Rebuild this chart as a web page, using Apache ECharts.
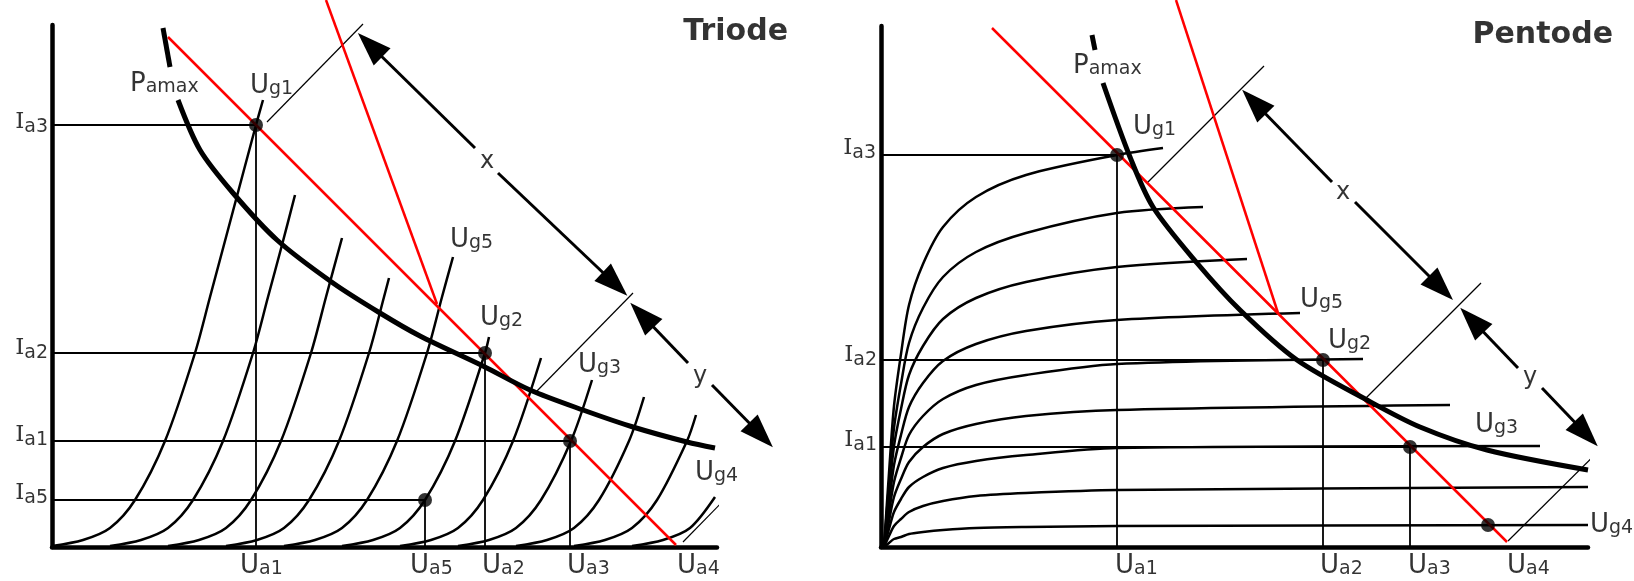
<!DOCTYPE html>
<html>
<head>
<meta charset="utf-8">
<title>Triode / Pentode</title>
<script src="https://cdn.jsdelivr.net/npm/echarts@6/dist/echarts.min.js"></script>
<style>
  html, body { margin: 0; padding: 0; background: #fff; }
  #chart { width: 1634px; height: 581px; }
</style>
</head>
<body>
<div id="chart"></div>
<script>
// x = anode voltage Ua, y = anode current Ia (arbitrary units)

/* ---------- Triode ---------- */
const triodeGridCurves = [
  [[0,1],[31,7],[58,19],[83,47],[113,106],[143,194],[158,250],[181,336],[204,422],[211,447]],
  [[58,1],[89,7],[116,19],[141,47],[171,106],[201,194],[216,250],[230,302],[243,352]],
  [[116,1],[147,7],[174,19],[199,47],[229,106],[259,194],[274,250],[290,309]],
  [[174,1],[205,7],[232,19],[257,47],[287,106],[317,194],[332,250],[337,269]],
  [[232,1],[263,7],[290,19],[315,47],[345,106],[375,194],[390,250],[401,290]],
  [[290,1],[321,7],[348,19],[373,47],[403,106],[433,194],[437,210]],
  [[348,1],[379,7],[406,19],[431,47],[461,106],[489,189]],
  [[406,1],[437,7],[464,19],[489,47],[519,106],[540,167]],
  [[464,1],[495,7],[522,19],[547,47],[577,106],[592,150]],
  [[522,1],[553,7],[580,19],[605,47],[635,106],[644,132]],
  [[580,1],[611,7],[638,19],[663,50]]
];
const triodePamaxTop = [[111,519],[118,480]];
const triodePamax = [[126,447],[148,397],[181,354],[225,307],[281,264],[328,234],[368,211],
  [431,181],[478,157],[531,137],[581,120],[635,105],[663,99]];
const triodeLoadLine = [[116,510],[624,2]];
const triodeSteepLine = [[274,547],[385,243]];
const triodeUa = [204, 433, 518, 373];   // Ua1, Ua2, Ua3, Ua5
const triodeIa = [422, 194, 106, 47];    // Ia3, Ia2, Ia1, Ia5
const triodeTicks = [[[215,425],[311,523]], [[483,154],[581,254]], [[631,5],[728,104]]];
const triodeArrowsStart = [[[318,502],[423,399]], [[590,232],[636,184]]];
const triodeArrowsEnd = [[[446,374],[563,263]], [[660,162],[709,112]]];
const triodeLabels = [
  ['P','amax',78,463,'left'], ['U','g1',198,461,'left'], ['U','g5',398,307,'left'],
  ['U','g2',428,229,'left'], ['U','g3',526,182,'left'], ['U','g4',643,74,'left'],
  ['I','a3',-4,423,'right'], ['I','a2',-4,197,'right'], ['I','a1',-4,110,'right'], ['I','a5',-4,52,'right'],
  ['U','a1',188,-19,'left'], ['U','a5',358,-19,'left'], ['U','a2',430,-19,'left'],
  ['U','a3',515,-19,'left'], ['U','a4',625,-19,'left'],
  ['x','',435,385,'center'], ['y','',648,170,'center']
];
const triodeTitle = ['Triode', 736, 515];

/* ---------- Pentode ---------- */
const pentodeGridCurves = [
  [[3,0],[8,74],[13,141],[20,193],[28,242],[42,283],[62,320],[95,350],[145,372],[236,392],[282,399]],
  [[3,0],[8,63],[13,119],[20,163],[28,204],[42,239],[62,270],[95,295],[145,314],[236,334],[322,340]],
  [[3,0],[8,53],[13,101],[20,138],[28,172],[42,201],[62,228],[95,249],[145,265],[236,280],[366,288]],
  [[3,0],[8,43],[13,82],[20,112],[28,140],[42,164],[62,186],[95,203],[145,216],[236,227],[419,234]],
  [[3,0],[8,34],[13,65],[20,89],[28,112],[42,131],[62,148],[95,162],[145,172],[236,183],[482,188]],
  [[3,0],[8,26],[13,50],[20,68],[28,85],[42,100],[62,113],[95,123],[145,131],[236,137],[569,142]],
  [[3,0],[8,18],[13,35],[20,48],[28,60],[42,70],[62,79],[95,86],[145,92],[236,99],[659,101]],
  [[3,0],[8,11],[13,21],[20,28],[28,35],[42,41],[62,46],[95,51],[145,54],[236,57],[707,60]],
  [[3,0],[8,4],[13,8],[20,10],[28,13],[42,15],[62,17],[95,19],[145,20],[236,21],[707,22]]
];
const pentodePamaxTop = [[211,512],[214,497]];
const pentodePamax = [[222,464],[249,390],[272,340],[316,284],[359,237],[416,187],[486,147],
  [539,120],[606,97],[707,77]];
const pentodeLoadLine = [[111,519],[626,5]];
const pentodeSteepLine = [[295,547],[397,234]];
const pentodeUa = [236, 442, 529];       // Ua1, Ua2, Ua3
const pentodeIa = [392, 187, 100];       // Ia3, Ia2, Ia1
const pentodeExtraDot = [[607, 22]];     // on Ug4
const pentodeTicks = [[[266,364],[383,481]], [[484,148],[600,264]], [[627,6],[746,124]]];
const pentodeArrowsStart = [[[373,445],[451,365]], [[591,227],[637,179]]];
const pentodeArrowsEnd = [[[474,345],[560,259]], [[661,159],[705,113]]];
const pentodeLabels = [
  ['P','amax',192,481,'left'], ['U','g1',252,420,'left'], ['U','g5',419,247,'left'],
  ['U','g2',447,206,'left'], ['U','g3',594,122,'left'], ['U','g4',709,22,'left'],
  ['I','a3',-5,397,'right'], ['I','a2',-4,190,'right'], ['I','a1',-4,105,'right'],
  ['U','a1',234,-19,'left'], ['U','a2',439,-19,'left'], ['U','a3',527,-19,'left'], ['U','a4',626,-19,'left'],
  ['x','',462,354,'center'], ['y','',649,169,'center']
];
const pentodeTitle = ['Pentode', 732, 512];

const FONT = '"Comic Sans MS", "DejaVu Sans", sans-serif';
const RED = '#ff0000';

function line(g, data, color, width, smooth, z) {
  return {
    type: 'line', xAxisIndex: g, yAxisIndex: g, data: data,
    smooth: smooth || false,
    symbol: 'none', clip: false, silent: true, z: z || 2,
    lineStyle: { color: color, width: width }
  };
}

function arrows(g, segs, atStart) {
  return {
    type: 'lines', coordinateSystem: 'cartesian2d', xAxisIndex: g, yAxisIndex: g,
    clip: false, silent: true, z: 4,
    symbol: atStart ? ['triangle', 'none'] : ['none', 'triangle'],
    symbolSize: [[24, 34], [24, 34]],
    lineStyle: { color: '#000', width: 3, opacity: 1, curveness: 0 },
    itemStyle: { color: '#000' },
    data: segs.map(s => ({ coords: s }))
  };
}

function labels(g, list, title) {
  const data = list.map(l => {
    const mk = l[0] === 'I' ? 'i' : 'm';
    const text = l[1] ? `{${mk}|${l[0]}}{s|${l[1]}}` : `{c|${l[0]}}`;
    return { value: [l[2], l[3]], label: { align: l[4], formatter: text } };
  });
  data.push({ value: [title[1], title[2]], label: { align: 'right', formatter: `{t|${title[0]}}` } });
  return {
    type: 'scatter', xAxisIndex: g, yAxisIndex: g, symbolSize: 0, clip: false, silent: true, z: 6,
    itemStyle: { color: 'rgba(0,0,0,0)' },
    label: {
      show: true, position: 'inside', verticalAlign: 'middle', color: '#000',
      rich: {
        m: { fontFamily: FONT, fontSize: 26, lineHeight: 26, verticalAlign: 'top', color: '#000' },
        i: { fontFamily: '"DejaVu Serif", serif', fontSize: 23, lineHeight: 26, verticalAlign: 'top', color: '#000' },
        s: { fontFamily: FONT, fontSize: 19, lineHeight: 14, verticalAlign: 'bottom', color: '#000' },
        c: { fontFamily: FONT, fontSize: 24, color: '#000' },
        t: { fontFamily: FONT, fontSize: 30, fontWeight: 'bold', color: '#000' }
      }
    },
    data: data
  };
}

function panel(g, d) {
  const s = [];
  d.curves.forEach(c => s.push(line(g, c, '#000', 2.5, 0.3, 2)));
  // guide lines from the axes to the operating points
  d.ua.forEach((u, k) => s.push(line(g, [[0, d.ia[k]], [u, d.ia[k]], [u, 0]], '#000', 1.8, false, 2)));
  d.ticks.forEach(t => s.push(line(g, t, '#000', 1.2, false, 2)));
  s.push(line(g, d.load, RED, 2.5, false, 3));
  s.push(line(g, d.steep, RED, 2.5, false, 3));
  s.push(line(g, d.pTop, '#000', 5, false, 4));
  s.push(line(g, d.pamax, '#000', 5, 0.3, 4));
  s.push(arrows(g, d.aStart, true));
  s.push(arrows(g, d.aEnd, false));
  s.push({
    type: 'scatter', xAxisIndex: g, yAxisIndex: g, symbolSize: 14, clip: false, silent: true, z: 5,
    itemStyle: { color: '#000' },
    data: d.ua.map((u, k) => [u, d.ia[k]]).concat(d.extra || [])
  });
  s.push(labels(g, d.labels, d.title));
  return s;
}

function axis(g, max) {
  return {
    type: 'value', gridIndex: g, min: 0, max: max,
    axisLine: { show: true, onZero: false, lineStyle: { color: '#000', width: 4.5 } },
    axisTick: { show: false }, axisLabel: { show: false }, splitLine: { show: false }
  };
}

const chart = echarts.init(document.getElementById('chart'), null, { renderer: 'canvas' });
chart.setOption({
  backgroundColor: '#fff',
  animation: false,
  grid: [
    { left: 52, top: 25, width: 665, height: 522, outerBoundsMode: 'none' },
    { left: 881, top: 26, width: 707, height: 521, outerBoundsMode: 'none' }
  ],
  xAxis: [axis(0, 665), axis(1, 707)],
  yAxis: [axis(0, 522), axis(1, 521)],
  series: [].concat(
    panel(0, {
      curves: triodeGridCurves, pTop: triodePamaxTop, pamax: triodePamax,
      load: triodeLoadLine, steep: triodeSteepLine, ua: triodeUa, ia: triodeIa,
      ticks: triodeTicks, aStart: triodeArrowsStart, aEnd: triodeArrowsEnd,
      labels: triodeLabels, title: triodeTitle
    }),
    panel(1, {
      curves: pentodeGridCurves, pTop: pentodePamaxTop, pamax: pentodePamax,
      load: pentodeLoadLine, steep: pentodeSteepLine, ua: pentodeUa, ia: pentodeIa,
      extra: pentodeExtraDot,
      ticks: pentodeTicks, aStart: pentodeArrowsStart, aEnd: pentodeArrowsEnd,
      labels: pentodeLabels, title: pentodeTitle
    })
  )
});
</script>
</body>
</html>
